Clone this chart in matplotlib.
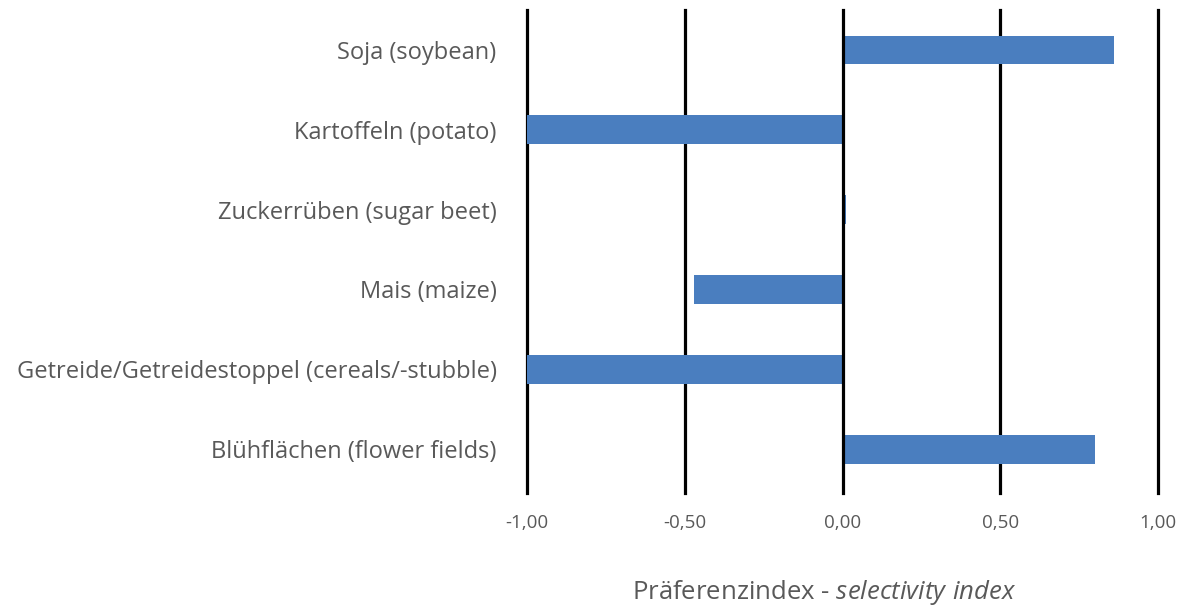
import matplotlib
matplotlib.use("Agg")
import matplotlib.pyplot as plt

categories = ["Soja (soybean)", "Kartoffeln (potato)", "Zuckerrüben (sugar beet)",
              "Mais (maize)", "Getreide/Getreidestoppel (cereals/-stubble)",
              "Blühflächen (flower fields)"]
values = [0.86, -1.00, 0.01, -0.47, -1.00, 0.80]
xticks = [-1.0, -0.5, 0.0, 0.5, 1.0]
xticklabels = ["-1,00", "-0,50", "0,00", "0,50", "1,00"]

plt.rcParams['font.family'] = ['Open Sans', 'DejaVu Sans']
plt.rcParams['mathtext.fontset'] = 'custom'
plt.rcParams['mathtext.rm'] = 'Open Sans'
plt.rcParams['mathtext.it'] = 'Open Sans:italic'
gray = "#595959"

fig = plt.figure(figsize=(11.86, 6.05), dpi=100)
ax = fig.add_axes([0.4444, 0.185, 0.9764 - 0.4444, 0.9835 - 0.185])

ypos = list(range(len(categories)))
ax.barh(ypos, values, height=0.36, color="#4A7EBF", zorder=2)
for x in xticks:
    ax.axvline(x, color="black", lw=2.3, zorder=3 if x == 0 else 1, clip_on=False)

ax.set_xlim(-1.0, 1.0)
ax.set_ylim(len(categories) - 0.5 + 0.05, -0.5)
ax.set_yticks(ypos)
ax.set_yticklabels(categories, fontsize=17, color=gray)
ax.set_xticks(xticks)
ax.set_xticklabels(xticklabels, fontsize=13.5, color=gray)
ax.tick_params(axis='both', length=0)
ax.tick_params(axis='y', pad=22)
ax.tick_params(axis='x', pad=15)
for s in ax.spines.values():
    s.set_visible(False)

ax.set_xlabel("Präferenzindex - $\\mathit{selectivity\\ index}$", fontsize=18.5, color=gray, labelpad=33)
ax.xaxis.label.set_x(0.4707)

fig.savefig("out.png", dpi=100)
